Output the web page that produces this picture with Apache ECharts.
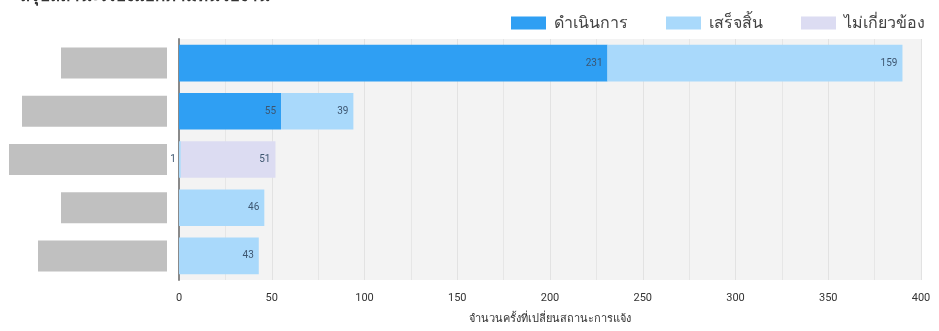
<!DOCTYPE html>
<html>
<head>
<meta charset="utf-8">
<script src="https://cdn.jsdelivr.net/npm/echarts@6/dist/echarts.min.js"></script>
<style>
  html, body { margin: 0; padding: 0; background: #fff; }
  #main { width: 939px; height: 331px; }
</style>
</head>
<body>
<div id="main"></div>
<script>
// categories (names are hidden behind grey boxes in the reference)
var categories = ['หน่วยงาน ก', 'หน่วยงานบริการ ข', 'หน่วยงานบริการกลาง ค', 'หน่วยงาน ง', 'หน่วยงานกลาง จ'];
var seriesNames = ['ดำเนินการ', 'เสร็จสิ้น', 'ไม่เกี่ยวข้อง'];
var inProgress = [231, 55, 0, 0, 0];
var done = [159, 39, 1, 46, 43];
var notRelated = [0, 0, 51, 0, 0];
var xTicks = [0, 50, 100, 150, 200, 250, 300, 350, 400];

// widths of the grey boxes that cover the names
var boxWidths = [106, 145, 158, 106, 129];

var chart = echarts.init(document.getElementById('main'));

var barLabel = {
    show: true,
    position: 'insideRight',
    color: '#3d5670',
    fontSize: 10,
    fontFamily: 'Roboto',
    formatter: function (p) { return p.value ? p.value : ''; }
};

var rich = {};
boxWidths.forEach(function (w, i) {
    rich['b' + i] = {
        color: '#c0c0c0',
        backgroundColor: '#c0c0c0',
        fontSize: 10,
        width: w,
        height: 31,
        lineHeight: 31,
        overflow: 'truncate'
    };
});

chart.setOption({
    title: {
        text: '■ สรุปสถานะเรื่องแยกตามหน่วยงาน',
        left: 0,
        top: -17,
        textStyle: { fontSize: 17, fontWeight: 'bold', color: '#333', fontFamily: 'Noto Sans' }
    },
    legend: {
        right: 9,
        top: 10,
        icon: 'rect',
        itemWidth: 35,
        itemHeight: 13,
        itemGap: 38,
        textStyle: { fontSize: 16, color: '#444', fontFamily: 'Noto Sans', padding: [0, 0, 0, 3] },
        data: seriesNames
    },
    grid: {
        left: 179,
        right: 18,
        top: 39,
        bottom: 51,
        show: true,
        backgroundColor: '#f3f3f3',
        borderWidth: 0
    },
    xAxis: {
        type: 'value',
        min: xTicks[0],
        max: xTicks[xTicks.length - 1],
        interval: 50,
        name: 'จำนวนครั้งที่เปลี่ยนสถานะการแจ้ง',
        nameLocation: 'middle',
        nameGap: 33,
        nameTextStyle: { fontSize: 11, color: '#333', fontFamily: 'Noto Sans' },
        axisLine: { show: false },
        axisTick: { show: false },
        axisLabel: { fontSize: 11, color: '#333', margin: 13, fontFamily: 'Roboto' },
        splitLine: { show: true, lineStyle: { color: '#e2e2e2', width: 1 } },
        minorTick: { show: false, splitNumber: 2 },
        minorSplitLine: { show: true, lineStyle: { color: '#e6e6e6', width: 1 } }
    },
    yAxis: {
        type: 'category',
        inverse: true,
        data: categories,
        axisLine: { show: true, lineStyle: { color: '#8a8a8a', width: 2 } },
        axisTick: { show: false },
        axisLabel: {
            margin: 12,
            formatter: function (v, i) { return '{b' + i + '|' + v + '}'; },
            rich: rich
        }
    },
    series: [
        {
            name: seriesNames[0], type: 'bar', stack: 'total', data: inProgress,
            barCategoryGap: '24%',
            itemStyle: { color: '#2f9ff3' }, label: barLabel
        },
        {
            name: seriesNames[1], type: 'bar', stack: 'total', data: done,
            itemStyle: { color: '#a9d9fb' }, label: barLabel
        },
        {
            name: seriesNames[2], type: 'bar', stack: 'total', data: notRelated,
            itemStyle: { color: '#dcdcf2' }, label: barLabel
        }
    ]
});
</script>
</body>
</html>
